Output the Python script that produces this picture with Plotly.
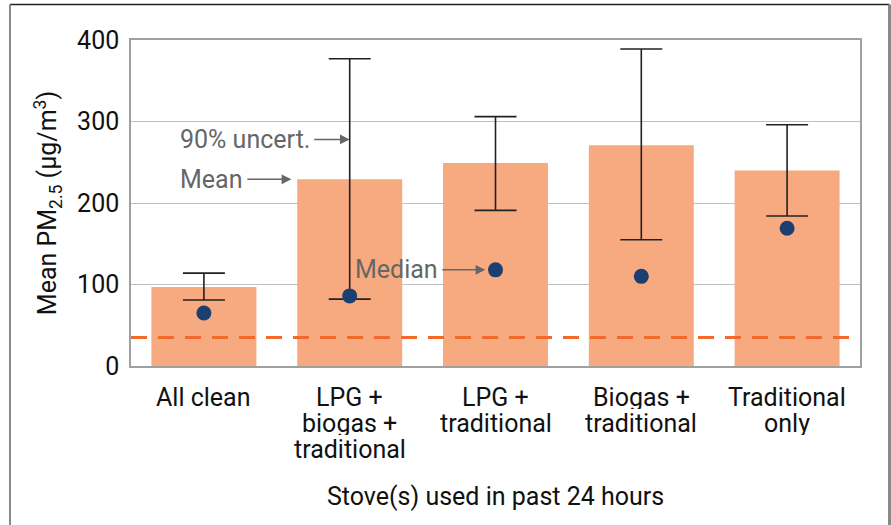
import plotly.graph_objects as go

categories = ["All clean", "LPG +<br>biogas +<br>traditional", "LPG +<br>traditional",
              "Biogas +<br>traditional", "Traditional<br>only"]
mean_pm = [97, 229, 249, 271, 240]
upper_90 = [114, 377, 306, 389, 296]
lower_90 = [81, 82, 191, 155, 184]
median_pm = [65, 86, 118, 110, 169]
guideline = 35
y_ticks = [0, 100, 200, 300, 400]

FONT = "Roboto"
xs = list(range(len(categories)))

fig = go.Figure()
fig.add_trace(go.Bar(
    x=xs, y=mean_pm, width=0.72,
    marker=dict(color="#F7AA80", line=dict(width=0)),
    error_y=dict(type="data", symmetric=False,
                 array=[u - m for u, m in zip(upper_90, mean_pm)],
                 arrayminus=[m - l for m, l in zip(mean_pm, lower_90)],
                 color="#222222", thickness=1.6, width=21),
    showlegend=False, hoverinfo="skip"))
fig.add_trace(go.Scatter(
    x=xs, y=median_pm, mode="markers",
    marker=dict(color="#1C3F72", size=15),
    showlegend=False, hoverinfo="skip"))

# frame of the whole figure (paper coords relative to plot area)
FX0, FX1, FY0, FY1 = -0.166, 1.0405, -0.6, 1.109
shapes = [
    dict(type="line", xref="paper", yref="y", x0=0, x1=1, y0=guideline, y1=guideline,
         line=dict(color="#F26A2A", width=3, dash="16px,11px"), layer="above"),
    dict(type="line", xref="paper", yref="paper", x0=FX0, x1=FX1, y0=FY1, y1=FY1,
         line=dict(color="#222222", width=1.5), layer="below"),
    dict(type="line", xref="paper", yref="paper", x0=FX0, x1=FX0, y0=FY0, y1=FY1,
         line=dict(color="#888888", width=2), layer="below"),
    dict(type="line", xref="paper", yref="paper", x0=FX1, x1=FX1, y0=FY0, y1=FY1,
         line=dict(color="#888888", width=3), layer="below"),
]

annotations = []
for i, lab in enumerate(categories):
    for j, line in enumerate(lab.split("<br>")):
        annotations.append(dict(x=i, y=0, xref="x", yref="paper", text=line,
                                showarrow=False, yanchor="middle", yshift=-31 - 26 * j,
                                height=24, borderpad=0,
                                font=dict(family=FONT, size=25, color="#111111")))
annotations.append(dict(x=0.5, y=0, xref="paper", yref="paper",
                        text="Stove(s) used in past 24 hours", showarrow=False,
                        yanchor="middle", yshift=-130,
                        font=dict(family=FONT, size=25, color="#111111")))

arrow_font = dict(family=FONT, size=25, color="#666666")
arrow_style = dict(showarrow=True, ay=0, arrowhead=2, arrowsize=1.3, arrowwidth=1.5,
                   arrowcolor="#666666", font=arrow_font, borderpad=4)
annotations += [
    dict(x=1, y=upper_90[1] - 99, xref="x", yref="y", text="90% uncert.", ax=-105,
         **arrow_style),
    dict(x=0.6, y=mean_pm[1], xref="x", yref="y", text="Mean", ax=-80, **arrow_style),
    dict(x=1.93, y=median_pm[2], xref="x", yref="y", text="Median", ax=-89,
         **arrow_style),
]

fig.update_layout(
    width=891, height=525,
    margin=dict(l=131, r=31, t=40, b=159),
    paper_bgcolor="white", plot_bgcolor="white",
    font=dict(family=FONT, size=24, color="#111111"),
    shapes=shapes, annotations=annotations,
)
fig.update_xaxes(range=[-0.5, 4.5], tickvals=xs, showticklabels=False,
                 showgrid=False, showline=True, linecolor="#A0A0A0", linewidth=1.5,
                 mirror=True, zeroline=False)
fig.update_yaxes(range=[0, 400], tickvals=y_ticks, showgrid=True, gridcolor="#C0C0C0",
                 gridwidth=1.2, showline=True, linecolor="#A0A0A0", linewidth=1.5,
                 mirror=True, zeroline=False, ticks="", ticklabelstandoff=5,
                 tickfont=dict(family=FONT, size=25, color="#111111"),
                 title=dict(text="Mean PM<sub>2.5</sub> (μg/m<sup>3</sup>)", standoff=13,
                            font=dict(family=FONT, size=25, color="#111111")))

fig.write_html("out.html", config={"displayModeBar": False},
               post_script="document.body.style.margin='0';"
                           "document.body.style.overflow='hidden';")
